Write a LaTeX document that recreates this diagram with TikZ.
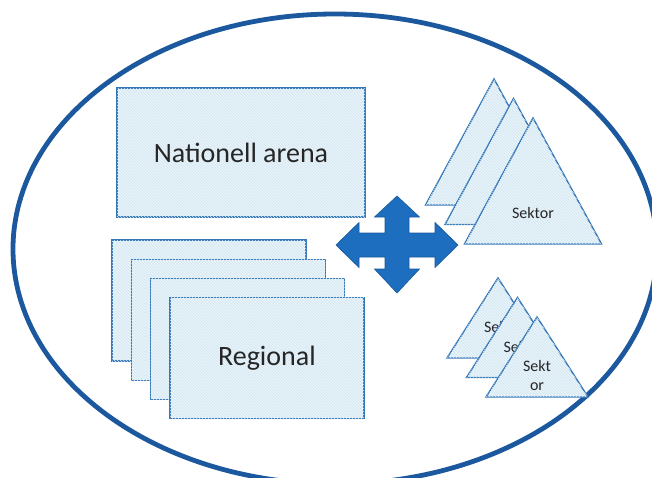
\documentclass[tikz,border=0pt]{standalone}
\usepackage{fontspec}
\setmainfont{Carlito}
\usetikzlibrary{patterns,shapes.geometric}
\definecolor{ringblue}{RGB}{28,88,158}
\definecolor{arrowblue}{RGB}{30,110,192}
\definecolor{edgeblue}{RGB}{52,118,182}
\definecolor{boxfill}{RGB}{232,243,249}
\definecolor{hatch}{RGB}{208,230,243}
\definecolor{txt}{RGB}{38,38,38}
\tikzset{
  hatched/.style={fill=boxfill, postaction={pattern=north west lines, pattern color=hatch}},
  cardbox/.style={draw=edgeblue, line width=1.4pt, hatched, rectangle, inner sep=0pt,
    minimum width=194pt, minimum height=121pt, text=txt, font=\fontsize{28}{32}\selectfont},
  bigtri/.style={draw=edgeblue, line width=1.4pt, hatched, line join=miter},
  tritext/.style={text=txt, font=\fontsize{16}{19}\selectfont, align=center, inner sep=0pt},
}
\begin{document}
\begin{tikzpicture}[x=1pt,y=-1pt]
\useasboundingbox (0,0) rectangle (652,477);
\clip (0,0) rectangle (652,477);
% outer ellipse
\node[draw=ringblue, line width=4.8pt, ellipse, inner sep=0pt, minimum width=644pt, minimum height=470pt] (ring) at (335,249) {};
% national arena
\node[cardbox, minimum width=248pt, minimum height=129pt] (nat) at (241,152.5) {Nationell arena};
% regional stack
\node[cardbox] (reg1) at (209,300.5) {};
\node[cardbox] (reg2) at (228.3,319.7) {};
\node[cardbox] (reg3) at (247.6,338.9) {};
\node[cardbox] (reg4) at (266.9,358.1) {Regional};
% big sector triangles
\foreach \i/\ax/\ay in {1/494/79, 2/513.5/98.5, 3/533/118}{
  \draw[bigtri] (\ax,\ay) -- ++(68.5,126) -- ++(-137,0) -- cycle;
  \node[tritext] (sek\i) at (\ax,\ay+95) {Sektor};
}
% small sector triangles
\foreach \i/\ax/\ay in {1/498/278, 2/517.5/297.5, 3/537/317}{
  \draw[bigtri] (\ax,\ay) -- ++(51,80) -- ++(-102,0) -- cycle;
  \node[tritext] (sm\i) at (\ax,\ay+58.5) {Sekt\\or};
}
% four-way arrow
\coordinate (hub) at (397,245);
\begin{scope}[shift={(hub)}]
\fill[arrowblue, draw=arrowblue!80!black, line width=0.6pt, line join=miter]
 (0,-49) -- (22.5,-28) -- (12,-28) -- (12,-12) -- (38,-12) -- (38,-22.5) -- (61,0)
 -- (38,22.5) -- (38,12) -- (12,12) -- (12,24) -- (22.5,24) -- (0,48)
 -- (-22.5,24) -- (-12,24) -- (-12,12) -- (-38,12) -- (-38,22.5) -- (-61,0)
 -- (-38,-22.5) -- (-38,-12) -- (-12,-12) -- (-12,-28) -- (-22.5,-28) -- cycle;
\end{scope}
\end{tikzpicture}
\end{document}
